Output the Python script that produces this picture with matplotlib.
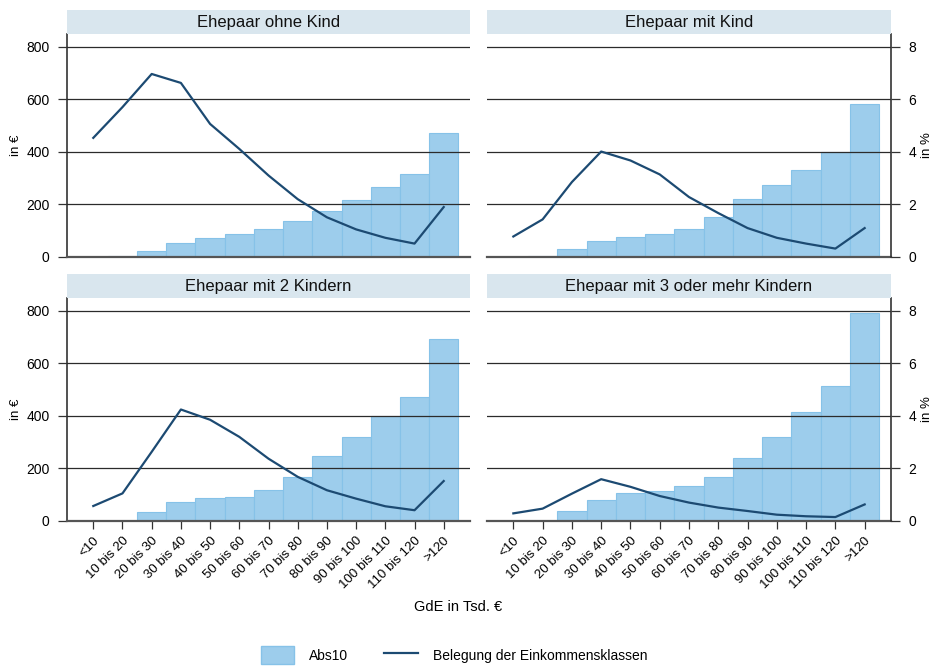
import matplotlib
matplotlib.use("Agg")
import matplotlib.pyplot as plt
from matplotlib.patches import Patch, Rectangle
from matplotlib.lines import Line2D
import numpy as np

plt.rcParams['font.family'] = ['Liberation Sans', 'DejaVu Sans']

categories = ["<10", "10 bis 20", "20 bis 30", "30 bis 40", "40 bis 50", "50 bis 60",
              "60 bis 70", "70 bis 80", "80 bis 90", "90 bis 100", "100 bis 110",
              "110 bis 120", ">120"]

titles = ["Ehepaar ohne Kind", "Ehepaar mit Kind",
          "Ehepaar mit 2 Kindern", "Ehepaar mit 3 oder mehr Kindern"]

# Abs10 in €
abs_ohne = [0, 4, 23, 52, 73, 89, 106, 135, 176, 218, 267, 314, 472]
abs_mit1 = [0, 3, 30, 59, 75, 86, 108, 152, 219, 272, 329, 401, 580]
abs_mit2 = [0, 1, 34, 71, 89, 90, 117, 169, 248, 319, 400, 471, 693]
abs_mit3 = [0, 1, 39, 80, 108, 113, 132, 166, 240, 320, 414, 513, 791]

# Belegung der Einkommensklassen in %
bel_ohne = [4.53, 5.70, 6.96, 6.62, 5.06, 4.11, 3.10, 2.20, 1.51, 1.05, 0.73, 0.51, 1.90]
bel_mit1 = [0.78, 1.43, 2.85, 4.01, 3.67, 3.14, 2.28, 1.67, 1.10, 0.73, 0.51, 0.32, 1.10]
bel_mit2 = [0.57, 1.05, 2.63, 4.24, 3.85, 3.20, 2.37, 1.68, 1.17, 0.85, 0.56, 0.41, 1.52]
bel_mit3 = [0.29, 0.47, 1.04, 1.59, 1.30, 0.95, 0.70, 0.51, 0.38, 0.24, 0.18, 0.15, 0.63]

abs_all = [abs_ohne, abs_mit1, abs_mit2, abs_mit3]
bel_all = [bel_ohne, bel_mit1, bel_mit2, bel_mit3]

W, H = 934, 666
fig = plt.figure(figsize=(W / 100, H / 100), dpi=100)

bar_color = "#9dcdec"
bar_edge = "#86c2e8"
line_color = "#1c4a72"
grid_color = "#2b2b2b"
strip_color = "#d9e6ee"

# pixel boxes: (left, right, top, bottom)
xs = [(67, 470), (487, 891)]
ys = [(34, 257), (298, 521)]
strip_h = 24

x = np.arange(len(categories))
for i in range(4):
    r, c = divmod(i, 2)
    l, rr = xs[c]
    t, b = ys[r]
    ax = fig.add_axes([l / W, 1 - b / H, (rr - l) / W, (b - t) / H])
    ax.bar(x, abs_all[i], width=1.0, color=bar_color, edgecolor=bar_edge, linewidth=0.8, zorder=1)
    ax.set_xlim(-0.9, 12.9)
    ax.set_ylim(0, 848)
    ax.set_yticks([0, 200, 400, 600, 800])
    for yv in [200, 400, 600, 800]:
        ax.axhline(yv, color=grid_color, lw=0.9, zorder=3)
    ax.axhline(0, color="#555555", lw=1.6, zorder=4, clip_on=False)
    for s in ["top", "right", "bottom", "left"]:
        ax.spines[s].set_visible(False)

    ax.set_xticks(x)
    if r == 1:
        ax.set_xticklabels(categories, rotation=45, ha="right", rotation_mode="anchor", fontsize=9.5)
        ax.tick_params(axis="x", length=6, width=0.9, color="#333333", pad=4)
    else:
        ax.set_xticklabels([])
        ax.tick_params(axis="x", length=0)

    ax2 = ax.twinx()
    ax2.plot(x, bel_all[i], color=line_color, lw=1.6, zorder=5)
    ax2.set_ylim(0, 8.48)
    ax2.set_yticks([0, 2, 4, 6, 8])
    for s in ["top", "right", "bottom", "left"]:
        ax2.spines[s].set_visible(False)

    ymid = 1 - ((t + b) / 2) / H
    if c == 0:
        ax.spines["left"].set_visible(True)
        ax.spines["left"].set_color("#333333")
        ax.spines["left"].set_linewidth(1.2)
        ax.tick_params(axis="y", length=6.5, width=0.9, color="#333333", labelsize=10, pad=6)
        ax2.set_yticks([])
        fig.text(16 / W, ymid, "in €", rotation=90, ha="center", va="center", fontsize=9.5)
    else:
        ax.set_yticks([])
        ax2.spines["right"].set_visible(True)
        ax2.spines["right"].set_color("#333333")
        ax2.spines["right"].set_linewidth(1.2)
        ax2.tick_params(axis="y", length=6.5, width=0.9, color="#333333", labelsize=10, pad=6)
        fig.text(927 / W, ymid, "in %", rotation=90, ha="center", va="center", fontsize=9.5)

    # strip title
    sax = fig.add_axes([l / W, 1 - t / H, (rr - l) / W, strip_h / H])
    sax.set_xlim(0, 1)
    sax.set_ylim(0, 1)
    sax.add_patch(Rectangle((0, 0), 1, 1, color=strip_color))
    sax.text(0.5, 0.5, titles[i], ha="center", va="center", fontsize=12, color="#111111")
    sax.axis("off")

fig.text(458 / W, 1 - 607 / H, "GdE in Tsd. €", ha="center", va="center", fontsize=10.5)

handles = [Patch(facecolor=bar_color, edgecolor=bar_edge, label="Abs10"),
           Line2D([0], [0], color=line_color, lw=1.6, label="Belegung der Einkommensklassen")]
fig.legend(handles=handles, loc="center", bbox_to_anchor=(454 / W, 1 - 655 / H), ncol=2,
           frameon=False, fontsize=10, handlelength=2.4, handleheight=1.6, columnspacing=2.6,
           handletextpad=1.1)

fig.savefig("out.png", dpi=100)
